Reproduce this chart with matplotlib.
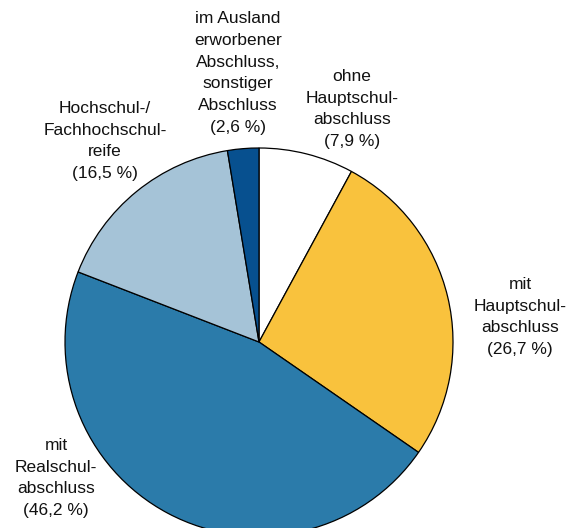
import matplotlib
matplotlib.use("Agg")
import matplotlib.pyplot as plt

categories = [
    "ohne\nHauptschul-\nabschluss",
    "mit\nHauptschul-\nabschluss",
    "mit\nRealschul-\nabschluss",
    "Hochschul-/\nFachhochschul-\nreife",
    "im Ausland\nerworbener\nAbschluss,\nsonstiger\nAbschluss",
]
values = [7.9, 26.7, 46.2, 16.5, 2.6]
colors = ["#FFFFFF", "#F9C23D", "#2B7BAA", "#A5C3D7", "#07508F"]

# label centre positions in pixel coordinates (x, y from top)
label_pos = [(352, 109), (520, 317), (56, 478), (105, 141), (238, 73)]

W, H = 569, 528
fig = plt.figure(figsize=(W / 100, H / 100), dpi=100)
ax = fig.add_axes([0, 0, 1, 1])
ax.set_xlim(0, W)
ax.set_ylim(0, H)
ax.set_aspect("equal")
ax.axis("off")

ax.pie(values, colors=colors, startangle=90, counterclock=False,
       center=(259, H - 342), radius=194,
       wedgeprops=dict(edgecolor="black", linewidth=0.9))
ax.set_xlim(0, W)
ax.set_ylim(0, H)

for cat, v, (x, y) in zip(categories, values, label_pos):
    txt = f"{cat}\n({v:.1f} %)".replace(".", ",")
    ax.text(x, H - y, txt, ha="center", va="center", fontsize=12.5,
            family="Liberation Sans", linespacing=1.58, color="#111111")

fig.savefig("out.png", dpi=100)
